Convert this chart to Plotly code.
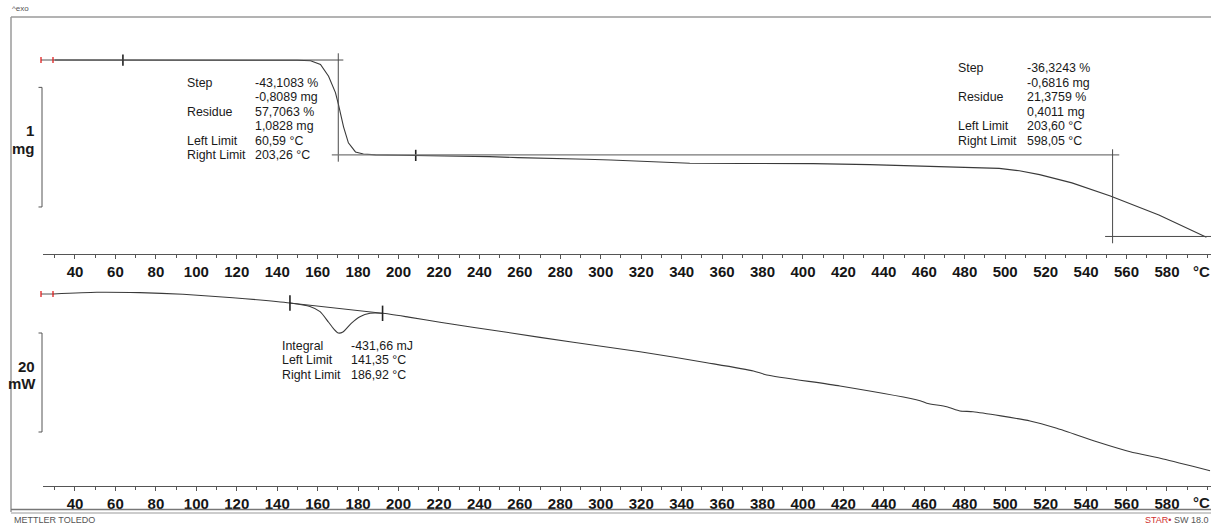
import numpy as np
import plotly.graph_objects as go

W, H = 1211, 524

# ---------------- data ----------------
# TGA curve (sample mass, mg) vs temperature (°C)
tga_temp = [29.5, 40, 60, 80, 100, 120, 140, 150, 156.5, 161.4, 165.4, 168.8, 170.3,
            172.8, 175.2, 178.7, 182.6, 188.6, 200, 225.6, 245, 259, 280, 293, 305,
            316, 331, 344, 370, 405, 433, 458, 482, 497, 507, 517, 533, 552, 576, 599.5]
tga_mass = [1.8764, 1.8764, 1.8763, 1.8762, 1.8760, 1.8758, 1.8752, 1.8740, 1.870, 1.839,
            1.741, 1.604, 1.503, 1.318, 1.184, 1.108, 1.091, 1.083, 1.080, 1.077, 1.069,
            1.060, 1.055, 1.047, 1.041, 1.033, 1.018, 1.013, 1.011, 1.010, 1.002, 0.991,
            0.978, 0.970, 0.950, 0.918, 0.849, 0.740, 0.581, 0.395]

# DSC curve (heat flow, mW) vs temperature (°C)
dsc_temp = [29.3, 50.7, 72.1, 93.4, 118.1, 146.3, 156.2, 161.2, 165.3, 168.0, 170.2,
            172.5, 176.6, 180.9, 185.9, 192.1, 205, 220.5, 253.5, 286.4, 319.4, 352.4,
            375.5, 382.1, 418.3, 457.9, 461.2, 471.1, 477.7, 484.1, 512.3, 525.5, 545.3,
            561.8, 578.1, 601.3]
dsc_mw = [2.22, 2.57, 2.49, 2.16, 1.47, 0.40, -0.30, -1.35, -3.43, -4.85, -5.66,
          -5.45, -3.70, -2.36, -1.68, -1.68, -2.45, -3.49, -5.52, -7.54, -9.43, -11.66,
          -13.33, -14.14, -16.36, -19.33, -19.86, -20.55, -21.41, -21.56, -23.43, -24.91,
          -27.62, -29.64, -31.11, -33.47]

# DSC integration baseline
dsc_base_temp = [146.3, 192.1]
dsc_base_mw = [0.40, -1.68]

# evaluation limit markers (as displayed)
tga_limit_temp = [63.7, 208.5]
dsc_limit_temp = [146.3, 192.1]

# TGA evaluation construction (tangents / step verticals)
tga_step1_temp = 170.2
tga_step2_temp = 553.1
tga_level_start = 1.8764
tga_level_mid = 1.0828
tga_level_end = 0.4011

# axis ticks
tick_vals = list(range(40, 600, 20))
tick_text = ["<b>%d</b>" % v for v in tick_vals]

# result boxes
tga_box1_labels = ["Step", "", "Residue", "", "Left Limit", "Right Limit"]
tga_box1_values = ["-43,1083 %", "-0,8089 mg", "57,7063 %", "1,0828 mg", "60,59 °C", "203,26 °C"]
tga_box2_labels = ["Step", "", "Residue", "", "Left Limit", "Right Limit"]
tga_box2_values = ["-36,3243 %", "-0,6816 mg", "21,3759 %", "0,4011 mg", "203,60 °C", "598,05 °C"]
dsc_box_labels = ["Integral", "Left Limit", "Right Limit"]
dsc_box_values = ["-431,66 mJ", "141,35 °C", "186,92 °C"]

# ---------------- helpers (pixel -> paper) ----------------
def px(x):
    return x / W

def py(y):
    return 1 - y / H

X_RANGE = [24.18, 601.77]
TGA_RANGE = [0.2544, 2.2362]
DSC_RANGE = [-36.57, 5.05]

FONT = "Liberation Sans, Arial, sans-serif"
CURVE = "#3a3a3a"
GUIDE = "#4a4a4a"

fig = go.Figure()

# TGA
fig.add_trace(go.Scatter(x=tga_temp, y=tga_mass, xaxis="x2", yaxis="y2", mode="lines",
                         line=dict(color=CURVE, width=1.1), hoverinfo="skip", showlegend=False))
# DSC
fig.add_trace(go.Scatter(x=dsc_temp, y=dsc_mw, xaxis="x", yaxis="y", mode="lines",
                         line=dict(color=CURVE, width=1.1, shape="spline", smoothing=0.6),
                         hoverinfo="skip", showlegend=False))
fig.add_trace(go.Scatter(x=dsc_base_temp, y=dsc_base_mw, xaxis="x", yaxis="y", mode="lines",
                         line=dict(color=CURVE, width=1), hoverinfo="skip", showlegend=False))

# limit markers
tga_lim_y = list(np.interp(tga_limit_temp, tga_temp, tga_mass))
fig.add_trace(go.Scatter(x=tga_limit_temp, y=tga_lim_y, xaxis="x2", yaxis="y2", mode="markers",
                         marker=dict(symbol="line-ns-open", size=8, color="#222",
                                     line=dict(color="#222", width=1.6)),
                         hoverinfo="skip", showlegend=False))
fig.add_trace(go.Scatter(x=dsc_limit_temp, y=dsc_base_mw, xaxis="x", yaxis="y", mode="markers",
                         marker=dict(symbol="line-ns-open", size=11, color="#222",
                                     line=dict(color="#222", width=1.6)),
                         hoverinfo="skip", showlegend=False))

shapes = []

def seg(x0, y0, x1, y1, xref, yref, color=GUIDE, width=1):
    shapes.append(dict(type="line", x0=x0, y0=y0, x1=x1, y1=y1, xref=xref, yref=yref,
                       line=dict(color=color, width=width)))

# TGA construction lines
seg(30, tga_level_start, 172.7, tga_level_start, "x2", "y2")
seg(tga_step1_temp, 1.9327, tga_step1_temp, 1.0263, "x2", "y2")
seg(167, tga_level_mid, 556.4, tga_level_mid, "x2", "y2", color="#777", width=1.3)
seg(tga_step2_temp, 1.130, tga_step2_temp, 0.344, "x2", "y2")
seg(549.4, tga_level_end, 601.8, tga_level_end, "x2", "y2")

# scale bars
seg(px(42), 0.6476, px(42), 1.6476, "paper", "y2", color="#555")
seg(px(38.5), 1.6476, px(42), 1.6476, "paper", "y2", color="#555")
seg(px(38.5), 0.6476, px(42), 0.6476, "paper", "y2", color="#555")
seg(px(42), -25.66, px(42), -5.66, "paper", "y", color="#555")
seg(px(38.5), -5.66, px(42), -5.66, "paper", "y", color="#555")
seg(px(38.5), -25.66, px(42), -25.66, "paper", "y", color="#555")

# red start markers
for ypix in (60, 294):
    seg(px(41), py(ypix), px(54), py(ypix), "paper", "paper", color="#555")
    seg(px(41), py(ypix - 3), px(41), py(ypix + 3), "paper", "paper", color="#e02020", width=1.3)
    seg(px(53), py(ypix - 3), px(53), py(ypix + 3), "paper", "paper", color="#e02020", width=1.3)

# outer frame
seg(px(11), py(17), px(11), py(512), "paper", "paper", color="#8a8a8a", width=1.3)
seg(px(11), py(17), px(1211), py(17), "paper", "paper", color="#9a9a9a", width=1.3)
seg(px(11), py(509.5), px(1211), py(509.5), "paper", "paper", color="#777", width=1.3)
seg(px(11), py(513), px(1211), py(513), "paper", "paper", color="#999", width=1)

annotations = []

def txt(x, y, s, size=12.4, xanchor="left", color="#1a1a1a", bold=False):
    if bold:
        s = "<b>%s</b>" % s
    annotations.append(dict(x=px(x), y=py(y), xref="paper", yref="paper", text=s,
                            showarrow=False, xanchor=xanchor, yanchor="middle",
                            font=dict(family=FONT, size=size, color=color)))

row = 14.5
for i, (lab, val) in enumerate(zip(tga_box1_labels, tga_box1_values)):
    if lab:
        txt(184.5, 82.7 + i * row, lab)
    txt(253, 82.7 + i * row, val)
for i, (lab, val) in enumerate(zip(tga_box2_labels, tga_box2_values)):
    if lab:
        txt(955.5, 68.3 + i * row, lab)
    txt(1025, 68.3 + i * row, val)
for i, (lab, val) in enumerate(zip(dsc_box_labels, dsc_box_values)):
    txt(280, 345.7 + i * row, lab)
    txt(349, 345.7 + i * row, val)

# scale bar labels
txt(36, 130.5, "1", size=15, xanchor="right", bold=True)
txt(37, 148.5, "mg", size=15, xanchor="right", bold=True)
txt(37, 366, "20", size=15, xanchor="right", bold=True)
txt(38, 383, "mW", size=15, xanchor="right", bold=True)

# °C unit labels
txt(1201.5, 271.7, "°C", size=15, xanchor="center", bold=True)
txt(1201.5, 502, "°C", size=15, xanchor="center", bold=True)

# footer / header
txt(10, 8, "^exo", size=8, color="#555")
txt(12, 519.5, "METTLER TOLEDO", size=9, color="#555")
annotations.append(dict(x=1, y=py(519.5), xref="paper", yref="paper",
                        text="<span style='color:#d03030'>STAR•</span> SW 18.0",
                        showarrow=False, xanchor="right", yanchor="middle",
                        font=dict(family=FONT, size=9, color="#555")))

axis_common = dict(range=X_RANGE, domain=[px(43), 1], showgrid=False, zeroline=False,
                   showline=True, linecolor="#555", linewidth=1,
                   tickmode="array", tickvals=tick_vals, ticktext=tick_text,
                   ticks="outside", ticklen=4, tickcolor="#555", tickwidth=1,
                   tickfont=dict(family=FONT, size=15, color="#151515"),
                   minor=dict(tick0=30, dtick=10, ticks="outside", ticklen=3,
                              tickcolor="#555", tickwidth=1, showgrid=False),
                   fixedrange=True)

fig.update_layout(
    width=W, height=H,
    margin=dict(l=0, r=0, t=0, b=0),
    paper_bgcolor="white", plot_bgcolor="rgba(0,0,0,0)",
    showlegend=False,
    xaxis=dict(anchor="y", **axis_common),
    xaxis2=dict(anchor="y2", **axis_common),
    yaxis=dict(domain=[py(486), py(280)], range=DSC_RANGE, visible=False, fixedrange=True),
    yaxis2=dict(domain=[py(254), py(17)], range=TGA_RANGE, visible=False, fixedrange=True),
    shapes=shapes,
    annotations=annotations,
)

fig.write_html("out.html", config={"displayModeBar": False},
               post_script="document.body.style.margin='0';document.body.style.overflow='hidden';")
